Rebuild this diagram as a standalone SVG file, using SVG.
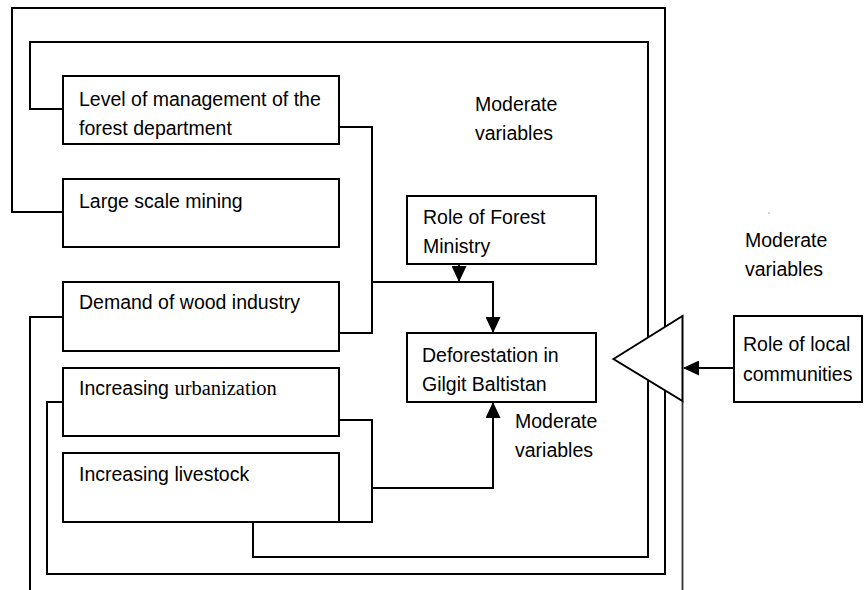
<svg xmlns="http://www.w3.org/2000/svg" width="864" height="590" viewBox="0 0 864 590">
<style>
.box{fill:#fff;stroke:#000;stroke-width:2}
.ln{fill:none;stroke:#000;stroke-width:2}
.t{font-family:"Liberation Sans",Arial,sans-serif;font-size:19.5px;fill:#000}
.s{font-family:"Liberation Serif","Times New Roman",serif;font-size:20.5px}
</style>
<defs>
<marker id="arr" viewBox="0 0 16 15" refX="15" refY="7.5" markerWidth="16" markerHeight="15" markerUnits="userSpaceOnUse" orient="auto">
<path d="M0,0 L16,7.5 L0,15 Z" fill="#000"/>
</marker>
</defs>
<rect width="864" height="590" fill="#fff"/>
<g id="connectors">
<path class="ln" d="M63,212 H12 V8 H665 V574 H47 V402 H63"/>
<path class="ln" d="M63,109 H30 V42 H648 V557 H253 V522"/>
<path class="ln" d="M339,127 H372 V333 H339"/>
<path class="ln" d="M372,282 H493 V332" marker-end="url(#arr)"/>
<path class="ln" d="M459,264 V281" marker-end="url(#arr)"/>
<path class="ln" d="M339,420 H372 V522 H339"/>
<path class="ln" d="M372,488 H493 V403" marker-end="url(#arr)"/>
<path class="ln" d="M63,317 H30 V590"/>
<path class="ln" d="M682.5,401 V590" style="stroke:#333;stroke-width:1.8"/>
<path class="ln" d="M734,368 H684" marker-end="url(#arr)"/>
</g>
<g id="moderator-triangle">
<polygon class="box" points="613.5,359 682.5,316 682.5,401"/>
</g>
<g id="node-management">
<rect class="box" x="63" y="76" width="276" height="68"/>
<text class="t" x="79" y="106">Level of management of the</text>
<text class="t" x="79" y="135">forest department</text>
</g>
<g id="node-mining">
<rect class="box" x="63" y="179" width="276" height="68"/>
<text class="t" x="79" y="208">Large scale mining</text>
</g>
<g id="node-demand">
<rect class="box" x="63" y="282" width="276" height="69"/>
<text class="t" x="79" y="309">Demand of wood industry</text>
</g>
<g id="node-urbanization">
<rect class="box" x="63" y="368" width="276" height="68"/>
<text class="t" x="79" y="395">Increasing <tspan class="s">urbanization</tspan></text>
</g>
<g id="node-livestock">
<rect class="box" x="63" y="453" width="276" height="69"/>
<text class="t" x="79" y="481">Increasing livestock</text>
</g>
<g id="node-ministry">
<rect class="box" x="407" y="196" width="189" height="68"/>
<text class="t" x="423" y="224">Role of Forest</text>
<text class="t" x="423" y="253">Ministry</text>
</g>
<g id="node-deforestation">
<rect class="box" x="407" y="333" width="189" height="69"/>
<text class="t" x="422" y="362">Deforestation in</text>
<text class="t" x="422" y="391">Gilgit Baltistan</text>
</g>
<g id="node-local">
<rect class="box" x="734" y="316" width="128" height="86"/>
<text class="t" x="743" y="351">Role of local</text>
<text class="t" x="743" y="381">communities</text>
</g>
<g id="labels">
<text class="t" x="475" y="110.5">Moderate</text>
<text class="t" x="475" y="140">variables</text>
<text class="t" x="745" y="246.5">Moderate</text>
<text class="t" x="745" y="276">variables</text>
<text class="t" x="515" y="428">Moderate</text>
<text class="t" x="515" y="457">variables</text>
<circle cx="769" cy="213" r="0.8" fill="#999"/>
</g>
</svg>
